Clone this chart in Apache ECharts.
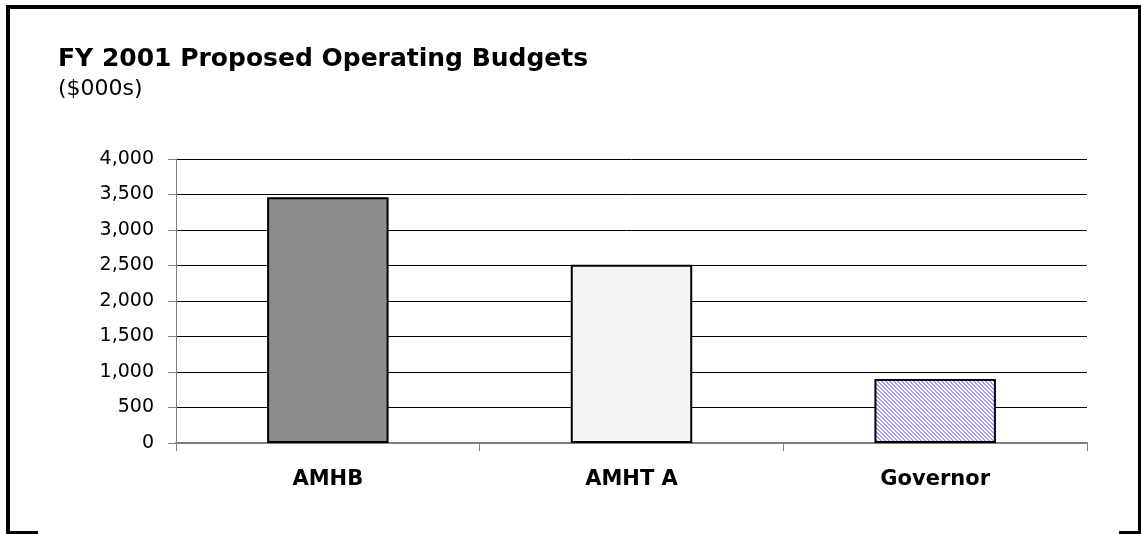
<!DOCTYPE html>
<html lang="en">
<head>
  <meta charset="UTF-8">
  <title>FY 2001 Proposed Operating Budgets</title>
  <script src="https://cdn.jsdelivr.net/npm/echarts@6/dist/echarts.min.js"></script>
  <style>
    html, body { margin: 0; padding: 0; background: #fff; }
  </style>
</head>
<body>
  <div id="chart" style="width:1141px;height:534px;"></div>
  <script>
    // data
    var categories = ['AMHB', 'AMHT A', 'Governor'];
    var budgets = [3460, 2510, 900];
    var yTicks = [0, 500, 1000, 1500, 2000, 2500, 3000, 3500, 4000];

    // hatch fill for the Governor bar
    var hatch = document.createElement('canvas');
    hatch.width = 4;
    hatch.height = 4;
    var hctx = hatch.getContext('2d');
    hctx.fillStyle = '#ffffff';
    hctx.fillRect(0, 0, 4, 4);
    hctx.fillStyle = '#a0a0fa';
    for (var py = 0; py < 4; py++) {
      for (var px = 0; px < 4; px++) {
        var d = ((px - py) % 4 + 4) % 4;
        if (d === 0 || d === 1) hctx.fillRect(px, py, 1, 1);
      }
    }

    var fills = ['#8c8c8c', '#f5f5f5', { image: hatch, repeat: 'repeat' }];

    var myChart = echarts.init(document.getElementById('chart'));
    var options = {
      animation: false,
      backgroundColor: '#fff',
      title: [
        {
          text: 'FY 2001 Proposed Operating Budgets',
          left: 53, top: 42,
          textStyle: { fontFamily: 'DejaVu Sans', fontWeight: 'bold', fontSize: 25, color: '#000' }
        },
        {
          text: '($000s)',
          left: 53, top: 73,
          textStyle: { fontFamily: 'DejaVu Sans', fontWeight: 'normal', fontSize: 22, color: '#000' }
        }
      ],
      grid: { left: 176, right: 54, top: 159, bottom: 91, containLabel: false },
      xAxis: {
        type: 'category',
        data: categories,
        axisLine: { lineStyle: { color: '#808080', width: 2 } },
        axisTick: { show: true, length: 8, lineStyle: { color: '#808080', width: 1 } },
        axisLabel: { margin: 26, fontFamily: 'DejaVu Sans', fontWeight: 'bold', fontSize: 21, color: '#000' },
        splitLine: { show: false }
      },
      yAxis: {
        type: 'value',
        min: yTicks[0],
        max: yTicks[yTicks.length - 1],
        interval: yTicks[1] - yTicks[0],
        axisLine: { show: true, lineStyle: { color: '#808080', width: 1 } },
        axisTick: { show: true, length: 8, lineStyle: { color: '#808080' } },
        axisLabel: {
          margin: 22, fontFamily: 'DejaVu Sans', fontSize: 19, color: '#000',
          formatter: function (v) { return v.toLocaleString('en-US'); }
        },
        splitLine: { show: true, lineStyle: { color: '#000', width: 1 } }
      },
      series: [{
        type: 'bar',
        barWidth: '40%',
        data: budgets.map(function (v, i) {
          return { value: v, itemStyle: { color: fills[i], borderColor: '#000', borderWidth: 2 } };
        })
      }],
      graphic: [{
        type: 'polyline',
        silent: true,
        shape: { points: [[38, 533], [8, 533], [8, 7], [1140, 7], [1140, 533], [1119, 533]] },
        style: { stroke: '#000', lineWidth: 4, fill: null }
      }]
    };
    myChart.setOption(options);
  </script>
</body>
</html>
